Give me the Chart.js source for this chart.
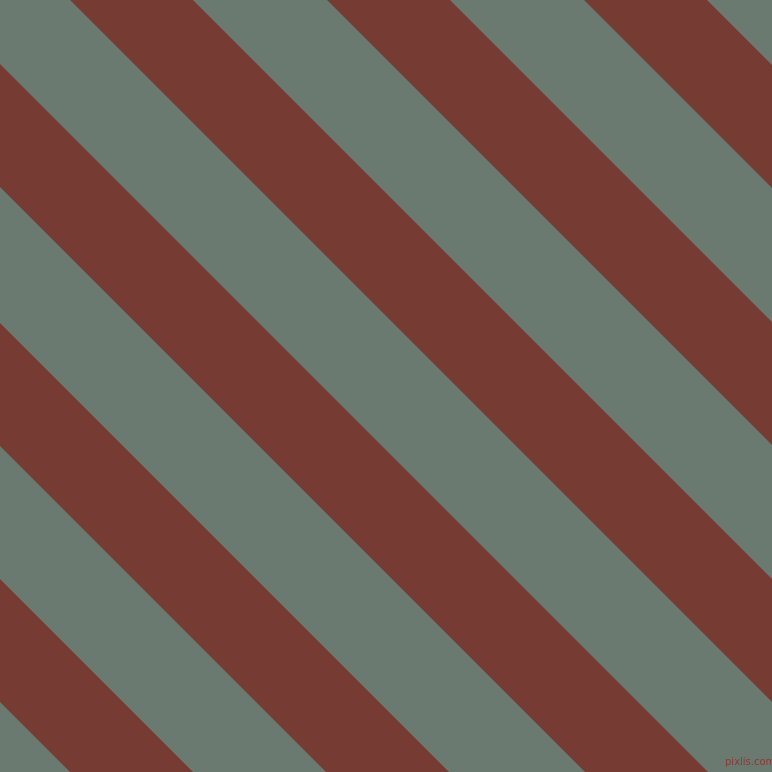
<!DOCTYPE html>
<html>
<head>
<meta charset="utf-8">
<title>Stripes</title>
<script src="https://cdn.jsdelivr.net/npm/chart.js@4.4.1/dist/chart.umd.min.js"></script>
<style>
  html, body { margin: 0; padding: 0; background: #6a7a70; overflow: hidden; }
  #wrap { position: relative; width: 772px; height: 772px; background: #6a7a70; }
  #mark {
    position: absolute; left: 725px; top: 756px;
    font: 10px "DejaVu Sans", sans-serif; color: #8a3a34;
  }
</style>
</head>
<body>
<div id="wrap">
  <canvas id="stripes"></canvas>
  <div id="mark">pixlis.com</div>
</div>
<script>
(function () {
  'use strict'

  // x - y offset where each red stripe starts and ends (pixel units of the picture)
  var stripeStart = [-702, -446, -187, 70, 327, 584];
  var stripeEnd = [-579, -323, -64, 193, 450, 707];
  var axisRange = [0, 772];

  var redColor = '#763c34';

  // each stripe = two boundary lines, the second filled to the first
  var datasets = [];
  for (var i = 0; i < stripeStart.length; i++) {
    datasets.push({
      data: axisRange.map(function (x) { return { x: x, y: x - stripeStart[i] }; }),
      borderWidth: 0,
      pointRadius: 0,
      fill: false
    });
    datasets.push({
      data: axisRange.map(function (x) { return { x: x, y: x - stripeEnd[i] }; }),
      borderWidth: 0,
      pointRadius: 0,
      backgroundColor: redColor,
      fill: '-1'
    });
  }

  const stripeChart = new Chart(document.getElementById('stripes'), {
    type: 'line',
    data: { datasets: datasets },
    options: {
      responsive: true,
      maintainAspectRatio: false,
      animation: false,
      events: [],
      layout: { padding: 0 },
      plugins: { legend: { display: false }, tooltip: { enabled: false } },
      scales: {
        x: { type: 'linear', min: axisRange[0], max: axisRange[1], display: false },
        y: { type: 'linear', min: axisRange[0], max: axisRange[1], reverse: true, display: false }
      }
    }
  });
})();
</script>
</body>
</html>
